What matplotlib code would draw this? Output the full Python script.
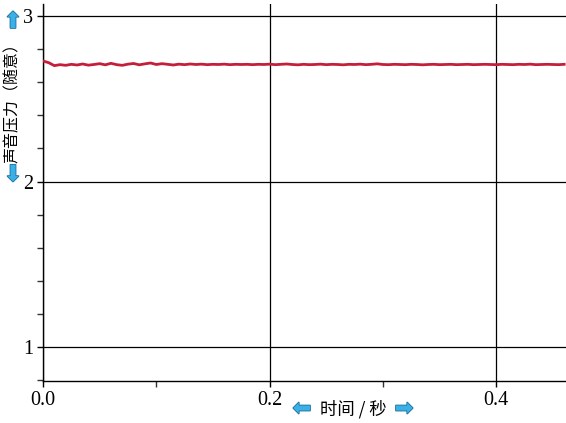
import matplotlib.pyplot as plt
import numpy as np
from matplotlib.ticker import MultipleLocator
import matplotlib.patheffects as pe

# sound pressure trace (arbitrary units)
t_step = 0.005
pressure = [2.728, 2.718, 2.700, 2.706, 2.702, 2.708, 2.704, 2.710, 2.703, 2.707,
            2.712, 2.705, 2.714, 2.706, 2.702, 2.709, 2.713, 2.705, 2.711, 2.716,
            2.707, 2.712, 2.708, 2.704, 2.709, 2.706, 2.710, 2.707, 2.709, 2.706,
            2.708, 2.707, 2.709, 2.706, 2.708, 2.707, 2.708, 2.706, 2.708, 2.707,
            2.709, 2.706, 2.708, 2.710, 2.707, 2.705, 2.708, 2.706, 2.707, 2.709,
            2.706, 2.708, 2.707, 2.705, 2.708, 2.707, 2.709, 2.706, 2.708, 2.711,
            2.707, 2.706, 2.708, 2.707, 2.706, 2.708, 2.707, 2.705, 2.707, 2.708,
            2.706, 2.707, 2.708, 2.706, 2.707, 2.708, 2.706, 2.707, 2.708, 2.707,
            2.706, 2.708, 2.707, 2.706, 2.708, 2.707, 2.709, 2.706, 2.707, 2.708,
            2.707, 2.706, 2.708]
time = np.arange(len(pressure)) * t_step

x_ticks = [0.0, 0.2, 0.4]
x_tick_labels = ['0.0', '0.2', '0.4']
y_ticks = [1, 2, 3]
y_tick_labels = ['1', '2', '3']
x_label = '时间 / 秒'
y_label = '声音压力（随意）'

plt.rcParams['font.family'] = ['Liberation Serif', 'Noto Sans CJK SC', 'DejaVu Sans']

fig = plt.figure(figsize=(5.66, 4.23), dpi=100)
ax = fig.add_axes([43 / 566, 42 / 423, 1 - 43 / 566, 376.6 / 423])

ax.plot(time, pressure, color='#c41e3a', lw=2, zorder=3)

ax.set_xlim(0, 0.4616)
ax.set_ylim(0.795, 3.07)
ax.set_xticks(x_ticks)
ax.set_xticklabels(x_tick_labels, fontfamily='Liberation Serif', fontsize=14.5)
ax.set_yticks(y_ticks)
ax.set_yticklabels(y_tick_labels, fontfamily='Liberation Serif', fontsize=14.5)
ax.xaxis.set_minor_locator(MultipleLocator(0.1))
ax.yaxis.set_minor_locator(MultipleLocator(0.2))
ax.tick_params(which='major', length=4, width=1, color='black', pad=3)
ax.tick_params(which='minor', length=4, width=1, color='#333333')
ax.grid(True, which='major', color='black', lw=0.9)

for s in ['top', 'right']:
    ax.spines[s].set_visible(False)
ax.spines['left'].set_linewidth(1)
ax.spines['bottom'].set_linewidth(1)

# labels with blue arrows
arrow_kw = dict(color='#3bb0e6', fontsize=16, family='DejaVu Sans',
                path_effects=[pe.withStroke(linewidth=1.2, foreground='#1a6f9a')])
fig.text(353 / 566, 1 - 409 / 423, x_label, ha='center', va='center',
         fontsize=12.5, family=['Noto Sans CJK SC'])
fig.text(302 / 566, 1 - 409 / 423, '⬅', ha='center', va='center', **arrow_kw)
fig.text(404 / 566, 1 - 409 / 423, '➡', ha='center', va='center', **arrow_kw)

fig.text(12 / 566, 1 - 99 / 423, y_label, ha='center', va='center', rotation=90,
         fontsize=11.5, family=['Noto Sans CJK SC'])
fig.text(13 / 566, 1 - 22 / 423, '⬆', ha='center', va='center', **arrow_kw)
fig.text(13 / 566, 1 - 175 / 423, '⬇', ha='center', va='center', **arrow_kw)

fig.savefig('out.png', dpi=100)
